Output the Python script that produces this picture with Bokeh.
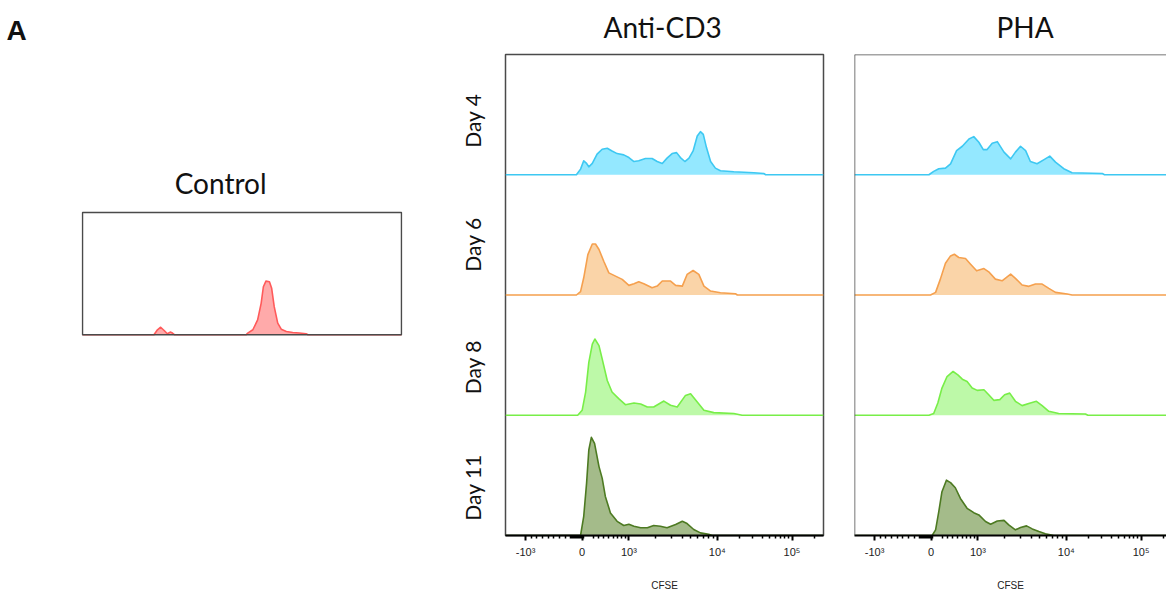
import numpy as np
from bokeh.plotting import figure
from bokeh.layouts import row
from bokeh.models import FixedTicker, Span, Label, Range1d, BoxAnnotation
from bokeh.embed import file_html
from bokeh.resources import INLINE

# ---------------- data ----------------
panel_label = "A"
control_title = "Control"
conditions = ["Anti-CD3", "PHA"]
days = ["Day 4", "Day 6", "Day 8", "Day 11"]
x_label = "CFSE"
tick_values = [-1000, 0, 1000, 10000, 100000]
tick_labels = ["-10³", "0", "10³", "10⁴", "10⁵"]

# histograms: CFSE channel (0-1000 display channel) vs normalized count (% of row)
control_ch = [0, 224, 235, 245, 256, 266, 275, 282, 289, 513, 518, 534, 549, 560, 567, 575, 586, 593, 601, 612, 623, 639, 659, 680, 701, 707, 1000]
control_cnt = [0, 0, 4.1, 6.2, 3.5, 0.8, 2.2, 1.4, 0, 0, 1.4, 4.1, 12.2, 25.7, 39.3, 43.9, 43.4, 38, 23, 9.5, 4.6, 2.7, 1.9, 1.4, 0.8, 0, 0]

anti_d4_ch = [0, 223, 236, 246, 255, 262, 273, 288, 304, 320, 335, 351, 372, 388, 404, 419, 440, 461, 477, 493, 508, 524, 538, 550, 564, 577, 590, 603, 613, 622, 632, 645, 660, 676, 718, 781, 812, 818, 1000]
anti_d4_cnt = [0, 0, 4.7, 11.6, 9.4, 6.6, 9.4, 17.1, 21.2, 22, 19.8, 17.6, 16.5, 14.3, 11, 11.6, 13.5, 13.5, 11, 9.4, 13.8, 17.6, 18.4, 14.3, 11, 13.8, 19.8, 32.2, 35.8, 33.6, 22.6, 11, 5.5, 3.3, 2.5, 1.7, 1.1, 0, 0]
anti_d6_ch = [0, 223, 236, 246, 259, 273, 283, 294, 309, 325, 346, 367, 388, 404, 419, 435, 461, 477, 493, 519, 535, 556, 571, 590, 608, 624, 645, 676, 723, 729, 1000]
anti_d6_cnt = [0, 0, 2.8, 14.3, 33.6, 42.4, 42.4, 37.8, 28.1, 18.4, 15.7, 13, 8, 9.4, 11, 9.4, 6.1, 7.4, 11.6, 11.6, 8, 7.4, 17.1, 20.4, 17.1, 7.4, 3.3, 1.9, 1.1, 0, 0]
anti_d8_ch = [0, 227, 241, 252, 262, 273, 281, 294, 304, 320, 335, 356, 377, 404, 425, 446, 466, 498, 519, 540, 566, 582, 603, 624, 655, 718, 744, 1000]
anti_d8_cnt = [0, 0, 4.1, 19.3, 44, 59.2, 63.4, 57.9, 46.9, 28.9, 19.3, 13.8, 8.8, 10.2, 9.4, 6.9, 6.9, 11.8, 8.3, 6.9, 16.5, 17.9, 11, 4.1, 2.2, 1.4, 0, 0]
anti_d11_ch = [0, 236, 246, 255, 262, 270, 280, 294, 304, 314, 330, 351, 372, 388, 404, 425, 446, 466, 487, 508, 535, 556, 571, 592, 613, 639, 650, 1000]
anti_d11_cnt = [0, 0, 16, 43.6, 71.1, 81.6, 76.6, 57.3, 47.7, 32.5, 18.8, 11.8, 8.3, 9.4, 7.7, 6.4, 6.4, 8.3, 7.7, 6.4, 9.1, 11.8, 9.9, 5, 2.2, 1.1, 0, 0]

pha_d4_ch = [0, 234, 249, 265, 286, 302, 321, 339, 360, 375, 391, 405, 417, 433, 449, 470, 491, 506, 522, 538, 553, 574, 596, 614, 632, 658, 684, 779, 786, 1000]
pha_d4_cnt = [0, 0, 2.8, 5, 5.5, 9.1, 20.1, 23.7, 29.8, 31.7, 27, 20.9, 20.9, 26.2, 27.5, 18.8, 13.2, 18.8, 23.7, 20.1, 11, 9.1, 12.6, 15.5, 10.5, 5, 1.7, 1.1, 0, 0]
pha_d6_ch = [0, 239, 255, 270, 286, 302, 314, 328, 349, 365, 384, 407, 422, 443, 464, 491, 506, 527, 548, 569, 590, 611, 632, 669, 684, 1000]
pha_d6_cnt = [0, 0, 2.2, 13.2, 26.4, 32.5, 33.9, 31.2, 30.3, 25.6, 20.1, 22, 19.3, 13.2, 11.8, 17.4, 13.8, 8.3, 7.2, 9.1, 9.1, 5.5, 2.2, 0.8, 0, 0]
pha_d8_ch = [0, 234, 249, 262, 275, 291, 310, 325, 339, 354, 370, 386, 407, 422, 438, 457, 472, 488, 506, 527, 553, 572, 590, 611, 642, 726, 734, 1000]
pha_d8_cnt = [0, 0, 1.4, 10.2, 22.6, 32.2, 36.4, 33.6, 30, 28.1, 22.6, 20.7, 21.2, 17.1, 12.4, 13, 17.1, 18.4, 11.6, 8, 10.2, 11.6, 8, 3.3, 1.4, 1.1, 0, 0]
pha_d11_ch = [0, 244, 255, 265, 275, 289, 302, 317, 333, 354, 375, 391, 412, 428, 449, 470, 485, 506, 522, 541, 559, 580, 600, 627, 1000]
pha_d11_cnt = [0, 0, 4.7, 19.8, 36.4, 46, 44, 39.7, 30.8, 22.6, 19, 17.1, 11.6, 9.4, 12.1, 12.6, 8.8, 4.7, 6.6, 8, 5.5, 3.3, 1.4, 0, 0]

anti_series = [(anti_d4_ch, anti_d4_cnt), (anti_d6_ch, anti_d6_cnt), (anti_d8_ch, anti_d8_cnt), (anti_d11_ch, anti_d11_cnt)]
pha_series = [(pha_d4_ch, pha_d4_cnt), (pha_d6_ch, pha_d6_cnt), (pha_d8_ch, pha_d8_cnt), (pha_d11_ch, pha_d11_cnt)]

# ---------------- styles ----------------
TITLE_FONT = "Lato"
day_line = ["#3ec8f2", "#f5a04e", "#78ee48", "#4d7a22"]
day_fill = ["#94e8ff", "#fad4a8", "#bdf9a8", "#a4bb8a"]
ctrl_line = "#ff5a5a"
ctrl_fill = "#ffaaaa"
FRAME = "#4a4a4a"
H, TOP, BOTTOM = 593, 53, 56


# biexponential-like display transform (value -> display channel)
def channel_of(v):
    if v < 0:
        return 241 + (241 - 63) * v / 1000.0
    if v <= 1000:
        return 241 + 147 * np.arcsinh(v / 750.0) / np.arcsinh(1000 / 750.0)
    if v <= 1e4:
        return 388 + 278 * np.log10(v / 1000.0)
    return 666 + 235 * np.log10(v / 1e4)


major_ticks = [float(channel_of(v)) for v in tick_values]
minor_vals = (list(range(-900, -99, 100)) + list(range(-190, 0, 15)) + [10, 20, 30]
              + list(range(200, 1000, 100)) + list(range(2000, 10000, 1000))
              + list(range(20000, 100000, 10000)) + [200000])
minor_ticks = [float(channel_of(v)) for v in minor_vals]
overrides = {t: lab for t, lab in zip(major_ticks, tick_labels)}


def style_xaxis(p):
    ax = p.xaxis[0]
    ax.ticker = FixedTicker(ticks=major_ticks, minor_ticks=minor_ticks)
    ax.major_label_overrides = overrides
    ax.axis_line_color = "black"
    ax.axis_line_width = 2
    ax.major_tick_line_color = "black"
    ax.major_tick_line_width = 2
    ax.major_tick_in = 0
    ax.major_tick_out = 5
    ax.minor_tick_line_color = "black"
    ax.minor_tick_line_width = 1.5
    ax.minor_tick_in = 0
    ax.minor_tick_out = 3
    ax.major_label_text_font = "Liberation Sans"
    ax.major_label_text_font_size = "11px"
    ax.major_label_text_color = "#222222"
    ax.major_label_standoff = 5
    ax.axis_label = x_label
    ax.axis_label_text_font = "Liberation Sans"
    ax.axis_label_text_font_size = "10px"
    ax.axis_label_text_font_style = "normal"
    ax.axis_label_text_color = "#222222"
    ax.axis_label_standoff = 19


def draw_stack(p, series):
    n = len(series)
    for i, ((ch, cnt), lc, fc) in enumerate(zip(series, day_line, day_fill)):
        base = (n - 1 - i) * 100
        top = [base + c for c in cnt]
        p.varea(x=ch, y1=[base] * len(ch), y2=top, fill_color=fc, fill_alpha=1.0)
        p.line(x=ch, y=top, line_color=lc, line_width=1.6, line_join="round")


def title_style(p, text, offset, size="28px", style="normal", font=TITLE_FONT, standoff=18):
    p.title.text = text
    p.title.align = "left"
    p.title.vertical_align = "top"
    p.title.text_font = font
    p.title.text_font_size = size
    p.title.text_font_style = style
    p.title.text_color = "#111111"
    p.title.offset = offset
    p.title.standoff = standoff


# ---------------- control figure (frame spans full height, box drawn around data) ----------------
pc = figure(width=430, height=H, output_backend="svg", toolbar_location=None,
            x_range=Range1d(-3.13, 1003.13), y_range=Range1d(-164.2, 229.3),
            x_axis_type=None, y_axis_type=None,
            min_border_left=81, min_border_right=28, min_border_top=TOP, min_border_bottom=BOTTOM)
pc.outline_line_color = None
pc.grid.visible = False
title_style(pc, panel_label, -75, size="28px", style="bold", font="Liberation Sans", standoff=14)
pc.varea(x=control_ch, y1=[0] * len(control_ch), y2=control_cnt, fill_color=ctrl_fill)
pc.line(x=control_ch, y=control_cnt, line_color=ctrl_line, line_width=1.6, line_join="round")
pc.add_layout(BoxAnnotation(left=0, right=1000, bottom=0, top=100, fill_color=None,
                            line_color=FRAME, line_alpha=1.0, line_width=1.5))
pc.add_layout(Label(x=433, y=124, text=control_title, text_font=TITLE_FONT,
                    text_font_size="28px", text_color="#111111",
                    text_align="center", text_baseline="alphabetic"))

# ---------------- Anti-CD3 figure ----------------
pa = figure(width=410, height=H, output_backend="svg", toolbar_location=None,
            x_range=Range1d(0, 1000), y_range=Range1d(0, 400),
            min_border_left=75, min_border_right=17, min_border_top=TOP, min_border_bottom=BOTTOM)
pa.outline_line_color = FRAME
pa.outline_line_width = 1.5
pa.grid.visible = False
title_style(pa, conditions[0], 98)
draw_stack(pa, anti_series)
style_xaxis(pa)
ya = pa.yaxis[0]
ya.ticker = FixedTicker(ticks=[345, 242, 140, 40], minor_ticks=[])
ya.major_label_overrides = {345: days[0], 242: days[1], 140: days[2], 40: days[3]}
ya.major_label_orientation = "vertical"
ya.axis_line_color = None
ya.major_tick_line_color = None
ya.minor_tick_line_color = None
ya.major_label_text_font = TITLE_FONT
ya.major_label_text_font_size = "21px"
ya.major_label_text_color = "#111111"
ya.major_label_standoff = 14

# ---------------- PHA figure ----------------
pp = figure(width=326, height=H, output_backend="svg", toolbar_location=None,
            x_range=Range1d(0, 981), y_range=Range1d(0, 400), y_axis_location=None,
            min_border_left=14, min_border_right=0, min_border_top=TOP, min_border_bottom=BOTTOM)
pp.outline_line_color = None
pp.grid.visible = False
title_style(pp, conditions[1], 142)
draw_stack(pp, pha_series)
style_xaxis(pp)
pp.add_layout(Span(location=0, dimension="height", line_color=FRAME, line_width=1.5))
pp.add_layout(Span(location=400, dimension="width", line_color=FRAME, line_width=1.5))

layout = row(pc, pa, pp)
open("out.html", "w").write(file_html(layout, INLINE))
